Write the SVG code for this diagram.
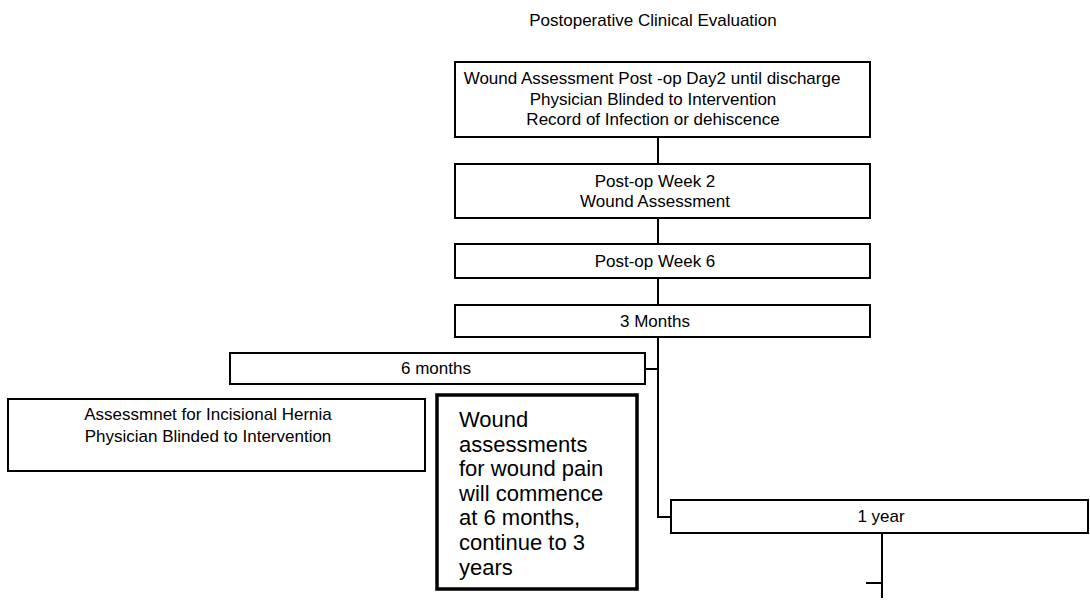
<svg xmlns="http://www.w3.org/2000/svg" width="1090" height="606" viewBox="0 0 1090 606">
<style>
.box{fill:#fff;stroke:#000;stroke-width:2}
.thick{fill:#fff;stroke:#000;stroke-width:3.5}
.t{font-family:"Liberation Sans",Arial,sans-serif;font-size:17px;fill:#000;text-anchor:middle}
.big{font-family:"Liberation Sans",Arial,sans-serif;font-size:22px;fill:#000}
.c{fill:none;stroke:#000;stroke-width:2}
</style>
<rect width="1090" height="606" fill="#fff"/>
<text class="t" x="653" y="26">Postoperative Clinical Evaluation</text>
<g id="connectors">
<path class="c" d="M658 137V164"/>
<path class="c" d="M658 218V244"/>
<path class="c" d="M658 278V305"/>
<path class="c" d="M658 337V517H671"/>
<path class="c" d="M645 369H658"/>
<path class="c" d="M882 533V598"/>
<path class="c" d="M866 583H882"/>
</g>
<g id="n1">
<rect class="box" x="455" y="62" width="415" height="75"/>
<text class="t" x="652" y="84">Wound Assessment Post -op Day2 until discharge</text>
<text class="t" x="653" y="105">Physician Blinded to Intervention</text>
<text class="t" x="653" y="125">Record of Infection or dehiscence</text>
</g>
<g id="n2">
<rect class="box" x="455" y="164" width="415" height="54"/>
<text class="t" x="655" y="187">Post-op Week 2</text>
<text class="t" x="655" y="207">Wound Assessment</text>
</g>
<g id="n3">
<rect class="box" x="455" y="244" width="415" height="34"/>
<text class="t" x="655" y="267">Post-op Week 6</text>
</g>
<g id="n4">
<rect class="box" x="455" y="305" width="415" height="32"/>
<text class="t" x="655" y="327">3 Months</text>
</g>
<g id="n5">
<rect class="box" x="230" y="353" width="415" height="31"/>
<text class="t" x="436" y="374">6 months</text>
</g>
<g id="n6">
<rect class="box" x="8" y="399" width="417" height="72"/>
<text class="t" x="208" y="420">Assessmnet for Incisional Hernia</text>
<text class="t" x="208" y="442">Physician Blinded to Intervention</text>
</g>
<g id="n7">
<rect class="thick" x="437" y="395" width="200" height="194"/>
<text class="big" x="459" y="427">Wound</text>
<text class="big" x="459" y="451.6">assessments</text>
<text class="big" x="459" y="476.2">for wound pain</text>
<text class="big" x="459" y="500.8">will commence</text>
<text class="big" x="459" y="525.4">at 6 months,</text>
<text class="big" x="459" y="550">continue to 3</text>
<text class="big" x="459" y="574.6">years</text>
</g>
<g id="n8">
<rect class="box" x="671" y="500" width="417" height="33"/>
<text class="t" x="881" y="522">1 year</text>
</g>
</svg>
